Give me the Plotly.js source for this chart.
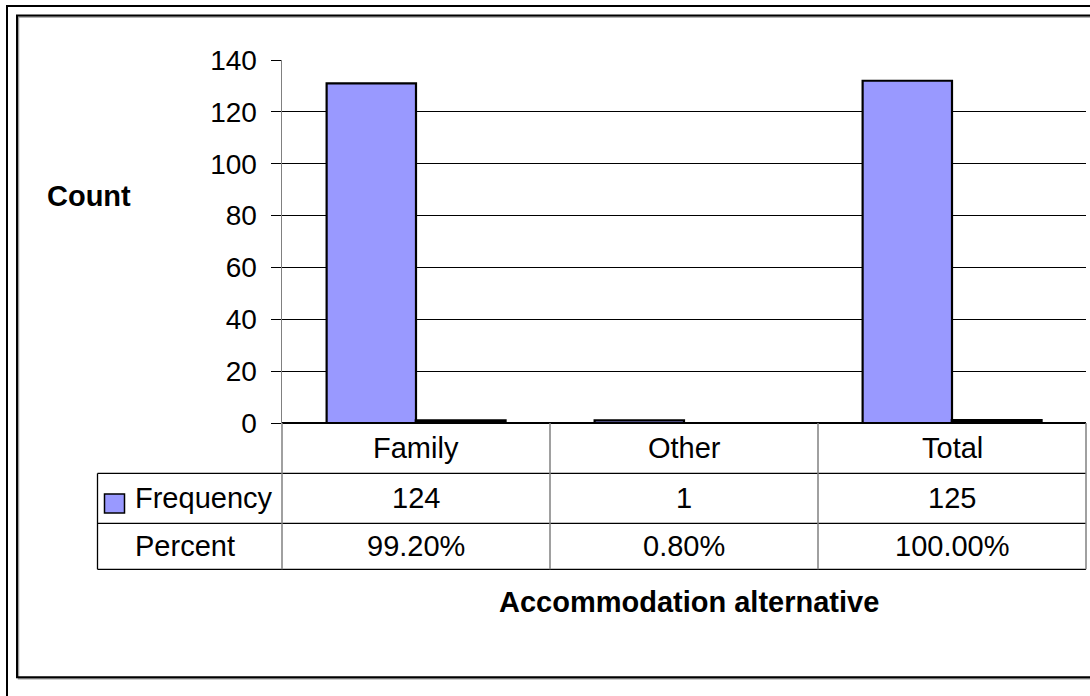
<!DOCTYPE html>
<html>
<head>
<meta charset="utf-8">
<script src="https://cdn.plot.ly/plotly-3.0.1.min.js"></script>
<style>html,body{margin:0;padding:0;background:#fff;}#chart{width:1090px;height:696px;}</style>
</head>
<body>
<div id="chart"></div>
<script>
// ---- data ----
const categories = ['Family', 'Other', 'Total'];
// bar heights as drawn against the Count axis
const frequencyBars = [131, 1, 132];
const percentBars = [0.992, 0.008, 1.0];
// data table text
const frequencyLabels = ['124', '1', '125'];
const percentLabels = ['99.20%', '0.80%', '100.00%'];
const rowNames = ['Frequency', 'Percent'];
const yTickVals = [0, 20, 40, 60, 80, 100, 120, 140];

// ---- geometry helpers (pixel -> paper) ----
const W = 1090, H = 696;
const L = 282, R = 1086, T = 60, B = 423.5;
const px = x => (x - L) / (R - L);
const py = y => (B - y) / (B - T);
const FONT = 'Liberation Sans, Arial, sans-serif';
const FS = 29;
const catX = k => (k + 1) / categories.length; // paper x of boundary after category k (k from -1)

// outline is only visible where the bar is at least a pixel tall
const percentLineWidths = percentBars.map(v => (v >= 0.1 ? 2.6 : 0));

const traces = [
  {type: 'bar', x: categories, y: frequencyBars, name: rowNames[0],
   marker: {color: '#9999FF', line: {color: '#000000', width: 2.2}}, hoverinfo: 'skip'},
  {type: 'bar', x: categories, y: percentBars, name: rowNames[1],
   marker: {color: 'rgba(255,255,255,0)', line: {color: '#000000', width: percentLineWidths}}, hoverinfo: 'skip'}
];

const shapes = [];
// outer and inner frames
shapes.push({type: 'rect', xref: 'paper', yref: 'paper', x0: px(7), x1: px(1110), y0: py(6), y1: py(720), line: {color: '#000', width: 2}});
shapes.push({type: 'rect', xref: 'paper', yref: 'paper', x0: px(18.5), x1: px(1110), y0: py(17), y1: py(679.5), line: {color: '#9a9a9a', width: 1.5}});
shapes.push({type: 'rect', xref: 'paper', yref: 'paper', x0: px(17), x1: px(1110), y0: py(15.5), y1: py(678), line: {color: '#000', width: 2}});

// table horizontal lines
[474, 524, 570].forEach(y => shapes.push({type: 'line', xref: 'paper', yref: 'paper', x0: px(97.5), x1: 1, y0: py(y), y1: py(y), line: {color: '#000', width: 1.3}}));
// table left edge
shapes.push({type: 'line', xref: 'paper', yref: 'paper', x0: px(97.5), x1: px(97.5), y0: py(474), y1: py(570), line: {color: '#000', width: 1.3}});
// category boundaries in table
for (let k = -1; k < categories.length; k++) {
  shapes.push({type: 'line', xref: 'paper', yref: 'paper', x0: catX(k), x1: catX(k), y0: 0, y1: py(570), line: {color: '#808080', width: 1.5}});
}
// legend key
shapes.push({type: 'rect', xref: 'paper', yref: 'paper', x0: px(104.5), x1: px(124.5), y0: py(494.5), y1: py(513.5), fillcolor: '#9999FF', line: {color: '#000', width: 1.5}});

const annotations = [];
const txt = (text, x, y, opts) => Object.assign({text: text, x: x, y: y, xref: 'paper', yref: 'paper', showarrow: false,
  xanchor: 'center', yanchor: 'middle', font: {family: FONT, size: FS, color: '#000'}}, opts || {});

annotations.push(txt('<b>Count</b>', px(89), py(196)));
annotations.push(txt('<b>Accommodation alternative</b>', px(689), py(603)));
categories.forEach((c, i) => {
  annotations.push(txt(c, c, py(449), {xref: 'x'}));
  annotations.push(txt(frequencyLabels[i], c, py(499), {xref: 'x'}));
  annotations.push(txt(percentLabels[i], c, py(547), {xref: 'x'}));
});
annotations.push(txt(rowNames[0], px(133), py(499), {xanchor: 'left'}));
annotations.push(txt(rowNames[1], px(133), py(547), {xanchor: 'left'}));

const layout = {
  width: W, height: H,
  margin: {l: L, r: W - R, t: T, b: H - B, pad: 0},
  paper_bgcolor: '#fff', plot_bgcolor: '#fff',
  showlegend: false,
  barmode: 'group', bargap: 0.333, bargroupgap: 0,
  xaxis: {type: 'category', range: [-0.5, 2.5], showticklabels: false, ticks: '', showgrid: false, zeroline: false, showline: false, fixedrange: true},
  yaxis: {range: [0, 140], tickmode: 'array', tickvals: yTickVals, ticktext: yTickVals.map(String),
    ticks: 'outside', ticklen: 10, tickcolor: '#000', tickwidth: 1,
    showgrid: true, gridcolor: '#000', gridwidth: 1,
    showline: true, linecolor: '#808080', linewidth: 1.5,
    zeroline: true, zerolinecolor: '#000', zerolinewidth: 1.3,
    ticklabelstandoff: 8,
    tickfont: {family: FONT, size: 28, color: '#000'}, fixedrange: true},
  shapes: shapes,
  annotations: annotations
};

Plotly.newPlot('chart', traces, layout, {displayModeBar: false, staticPlot: true});
</script>
</body>
</html>
